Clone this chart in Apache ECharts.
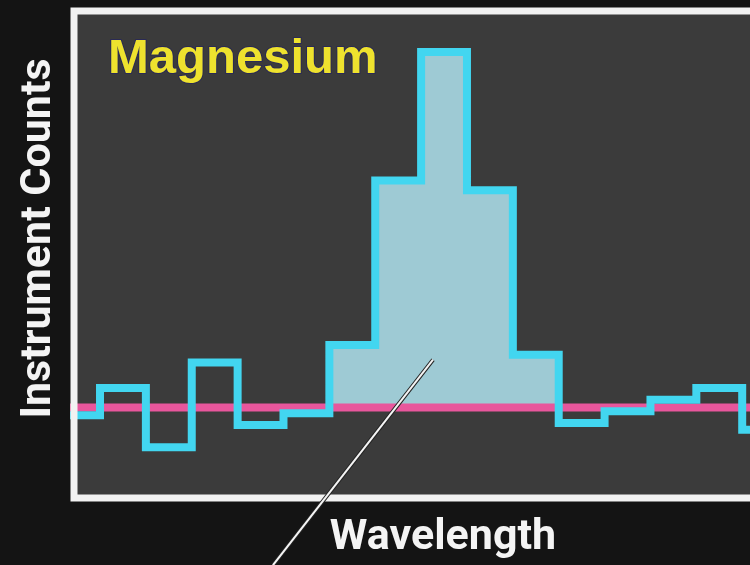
<!DOCTYPE html>
<html lang="en">
<head>
    <meta charset="UTF-8">
    <title>Magnesium</title>
    <script src="https://cdn.jsdelivr.net/npm/echarts@6/dist/echarts.min.js"></script>
</head>
<body style="margin:0;background:#141414;">
    <div id="app" style="width:750px;height:565px;"></div>
    <script>
        // left edge of each wavelength bin, and the counts in that bin
        var binEdges = [-1, 0, 1, 2, 3, 4, 5, 6, 7, 8, 9, 10, 11, 12, 13, 14];
        var counts = [85, 113, 52, 139, 75, 87, 157, 326, 458, 316, 147, 77, 89, 101, 113, 70];
        var lastEdge = 16;
        var baseline = 93;          // continuum level (pink)
        var peakBins = [6, 10];     // first / last bin of the Mg line (filled)
        var pointerFrom = [7.26, 142];
        var pointerTo = [3.77, -69];

        var xMin = -0.567, xMax = 14.17;
        var yMin = 0, yMax = 500;

        var myChart = echarts.init(document.getElementById('app'));

        var stepData = [];
        for (var i = 0; i < binEdges.length; i++) {
            stepData.push([binEdges[i], counts[i]]);
        }
        stepData.push([lastEdge, counts[counts.length - 1]]);

        var fillData = [];
        for (var i = peakBins[0]; i <= peakBins[1]; i++) {
            fillData.push([binEdges[i], counts[i]]);
        }
        fillData.push([binEdges[peakBins[1]] + 1, counts[peakBins[1]]]);

        var labelFont = "Roboto, 'Liberation Sans', sans-serif";

        var option = {
            backgroundColor: '#141414',
            animation: false,
            title: {
                text: 'Magnesium',
                left: 103,
                top: 30,
                textStyle: {
                    color: '#eee22e',
                    fontSize: 49,
                    fontWeight: 'bold',
                    fontFamily: "'Liberation Sans', Arial, sans-serif",
                    textBorderColor: '#2a2a55',
                    textBorderWidth: 2
                }
            },
            grid: {
                left: 74,
                top: 11,
                right: 0,
                bottom: 67,
                show: true,
                backgroundColor: '#3b3b3b',
                borderWidth: 0
            },
            xAxis: {
                type: 'value',
                min: xMin,
                max: xMax,
                name: 'Wavelength',
                nameLocation: 'middle',
                nameGap: 19,
                nameTextStyle: {
                    color: '#f4f4f4',
                    fontSize: 43,
                    fontWeight: 'bold',
                    fontFamily: labelFont,
                    padding: [0, 0, 0, 62]
                },
                axisLine: { show: false },
                axisTick: { show: false },
                axisLabel: { show: false },
                splitLine: { show: false }
            },
            yAxis: {
                type: 'value',
                min: yMin,
                max: yMax,
                name: 'Instrument Counts',
                nameLocation: 'middle',
                nameRotate: 90,
                nameGap: 13,
                nameTextStyle: {
                    color: '#f4f4f4',
                    fontSize: 43,
                    fontWeight: 'bold',
                    fontFamily: labelFont,
                    padding: [0, 0, 0, 32]
                },
                axisLine: { show: false },
                axisTick: { show: false },
                axisLabel: { show: false },
                splitLine: { show: false }
            },
            series: [{
                name: 'Mg line',
                type: 'line',
                step: 'end',
                data: fillData,
                symbol: 'none',
                lineStyle: { width: 0 },
                areaStyle: {
                    origin: baseline,
                    color: '#9ecad4',
                    opacity: 1
                },
                z: 1
            }, {
                name: 'Continuum',
                type: 'line',
                data: [[-1, baseline], [lastEdge, baseline]],
                symbol: 'none',
                lineStyle: { color: '#e8569c', width: 8 },
                z: 2
            }, {
                name: 'Counts',
                type: 'line',
                step: 'end',
                data: stepData,
                symbol: 'none',
                lineStyle: { color: '#42d6f0', width: 8, join: 'miter', cap: 'butt' },
                z: 3
            }]
        };
        myChart.setOption(option);

        // white frame on top of the lines, plus the thin pointer line
        var c1 = myChart.convertToPixel({ gridIndex: 0 }, [xMin, yMax]);
        var c2 = myChart.convertToPixel({ gridIndex: 0 }, [xMax, yMin]);
        var p1 = myChart.convertToPixel({ gridIndex: 0 }, pointerFrom);
        var p2 = myChart.convertToPixel({ gridIndex: 0 }, pointerTo);
        myChart.setOption({
            graphic: [{
                type: 'rect',
                shape: { x: c1[0], y: c1[1], width: c2[0] - c1[0] + 20, height: c2[1] - c1[1] },
                style: { fill: null, stroke: '#f2f2f2', lineWidth: 7 },
                z: 9
            }, {
                type: 'line',
                shape: { x1: p1[0], y1: p1[1], x2: p2[0], y2: p2[1] },
                style: { stroke: '#222222', lineWidth: 4 },
                z: 10
            }, {
                type: 'line',
                shape: { x1: p1[0], y1: p1[1], x2: p2[0], y2: p2[1] },
                style: { stroke: '#f4f4f4', lineWidth: 2 },
                z: 11
            }]
        });
    </script>
</body>
</html>
